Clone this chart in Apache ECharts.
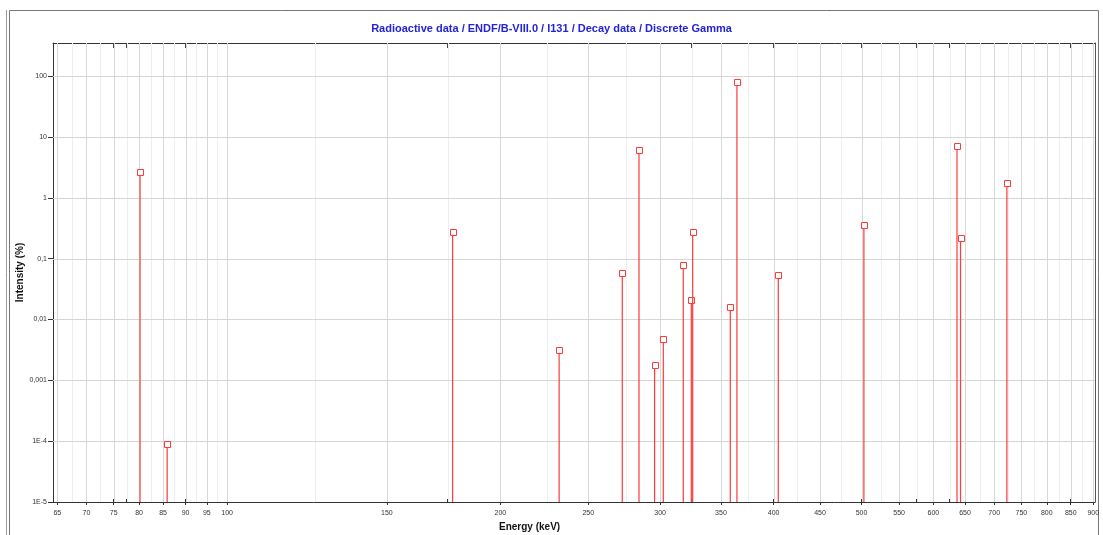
<!DOCTYPE html>
<html><head><meta charset="utf-8">
<script src="https://cdn.jsdelivr.net/npm/echarts@6/dist/echarts.min.js"></script>
<style>html,body{margin:0;padding:0;background:#fff}#c{width:1103px;height:535px}</style>
</head><body><div id="c"></div>
<script>
// Gamma line energies (keV) and intensities (%)
const energies = [80.185, 85.9, 177.21, 232.18, 272.5, 284.305, 295.8, 302.4, 318.088, 324.651, 325.789, 358.4, 364.49, 404.814, 503.004, 636.989, 642.719, 722.911];
const intensities = [2.62, 9.0e-5, 0.269, 0.0032, 0.0578, 6.12, 0.0018, 0.0047, 0.0774, 0.0212, 0.273, 0.016, 81.5, 0.0546, 0.359, 7.16, 0.217, 1.77];

// Axis ticks
const xMajorTicks = [65,70,75,80,85,90,95,100,150,200,250,300,350,400,450,500,550,600,650,700,750,800,850,900];
const xMinorTicks = [67.5,72.5,77.5,82.5,87.5,92.5,97.5,125,175,225,275,325,375,425,475,525,575,625,675,725,775,825,875];
const yTickValues = [1e-5,1e-4,0.001,0.01,0.1,1,10,100];
const yTickLabels = ['1E-5','1E-4','0,001','0,01','0,1','1','10','100'];

const X_MIN = 64.3, X_MAX = 904, Y_MIN = 1e-5, Y_MAX = 350;
const titleText = 'Radioactive data / ENDF/B-VIII.0 / I131 / Decay data / Discrete Gamma';

const chart = echarts.init(document.getElementById('c'), null, {renderer: 'canvas'});

function yLabel(v) {
  let best = 0, bd = Infinity;
  yTickValues.forEach((t, i) => { const d = Math.abs(Math.log10(t) - Math.log10(v)); if (d < bd) { bd = d; best = i; } });
  return yTickLabels[best];
}

function vGrid(color) {
  return function (params, api) {
    const cs = params.coordSys;
    const x = Math.round(api.coord([api.value(0), Y_MIN])[0]) + 0.5;
    return {type: 'line', shape: {x1: x, y1: cs.y, x2: x, y2: cs.y + cs.height}, style: {stroke: color, lineWidth: 1}, silent: true};
  };
}
function hGrid(params, api) {
  const cs = params.coordSys;
  const y = Math.round(api.coord([X_MIN, api.value(1)])[1]) + 0.5;
  return {type: 'line', shape: {x1: cs.x, y1: y, x2: cs.x + cs.width, y2: y}, style: {stroke: '#d6d6d6', lineWidth: 1}, silent: true};
}

const stemData = energies.map((e, i) => [e, intensities[i]]);

chart.setOption({
  animation: false,
  backgroundColor: '#fff',
  title: {
    text: titleText, left: 'center', top: 18,
    textStyle: {fontFamily: '"Liberation Sans Narrow", "Liberation Sans", Arial, sans-serif', fontSize: 11, fontWeight: 'bold', color: '#2323d8'}
  },
  grid: {left: 53, right: 8, top: 43, bottom: 33, containLabel: false, outerBoundsMode: 'none', show: false},
  xAxis: [
    {
      type: 'log', position: 'bottom', min: X_MIN, max: X_MAX,
      axisLine: {show: true, lineStyle: {color: '#333', width: 1}},
      axisTick: {show: true, inside: false, length: 3, customValues: xMajorTicks, lineStyle: {color: '#333'}},
      axisLabel: {show: true, customValues: xMajorTicks, fontSize: 7, color: '#333', margin: 8, fontFamily: 'Liberation Sans, Arial, sans-serif', formatter: v => String(v)},
      splitLine: {show: false}, minorTick: {show: false}
    },
    {
      type: 'log', position: 'bottom', min: X_MIN, max: X_MAX,
      axisLine: {show: false},
      axisTick: {show: true, inside: true, length: 3, customValues: xMajorTicks.concat(xMinorTicks), lineStyle: {color: '#333'}},
      axisLabel: {show: false}, splitLine: {show: false}
    },
    {
      type: 'log', position: 'top', min: X_MIN, max: X_MAX,
      axisLine: {show: true, lineStyle: {color: '#333', width: 1}},
      axisTick: {show: true, inside: true, length: 5, customValues: xMajorTicks.concat(xMinorTicks), lineStyle: {color: '#444'}},
      axisLabel: {show: false}, splitLine: {show: false}
    }
  ],
  yAxis: [
    {
      type: 'log', logBase: 10, position: 'left', min: Y_MIN, max: Y_MAX,
      name: 'Intensity (%)', nameLocation: 'middle', nameGap: 28, nameRotate: 90, nameMoveOverlap: false,
      nameTextStyle: {fontSize: 10, fontWeight: 'bold', color: '#111', fontFamily: 'Liberation Sans, Arial, sans-serif'},
      axisLine: {show: true, lineStyle: {color: '#333', width: 1}},
      axisTick: {show: true, inside: false, length: 5, customValues: yTickValues, lineStyle: {color: '#333'}},
      axisLabel: {show: true, customValues: yTickValues, fontSize: 7, color: '#333', margin: 6, fontFamily: 'Liberation Sans, Arial, sans-serif', formatter: yLabel},
      splitLine: {show: false}
    },
    {
      type: 'log', logBase: 10, position: 'right', min: Y_MIN, max: Y_MAX,
      axisLine: {show: true, lineStyle: {color: '#555', width: 1}},
      axisTick: {show: false}, axisLabel: {show: false}, splitLine: {show: false}
    }
  ],
  graphic: [
    {type: 'rect', shape: {x: 9.5, y: 10.5, width: 1089, height: 540}, style: {fill: 'none', stroke: '#777', lineWidth: 1}, silent: true, z: 0},
    {type: 'line', shape: {x1: 6.5, y1: 10, x2: 6.5, y2: 535}, style: {stroke: '#999', lineWidth: 1}, silent: true},
    {type: 'text', left: 499, top: 522, style: {text: 'Energy (keV)', fontSize: 10, fontWeight: 'bold', fill: '#111', fontFamily: 'Liberation Sans, Arial, sans-serif'}, silent: true}
  ],
  series: [
    {type: 'custom', name: 'minorV', xAxisIndex: 0, yAxisIndex: 0, silent: true, z: 1, clip: true,
     data: xMinorTicks.map(v => [v, Y_MIN]), renderItem: vGrid('#eeeeee'), encode: {x: 0, y: 1}},
    {type: 'custom', name: 'majorV', xAxisIndex: 0, yAxisIndex: 0, silent: true, z: 2, clip: true,
     data: xMajorTicks.map(v => [v, Y_MIN]), renderItem: vGrid('#d8d8d8'), encode: {x: 0, y: 1}},
    {type: 'custom', name: 'hGrid', xAxisIndex: 0, yAxisIndex: 0, silent: true, z: 2, clip: true,
     data: yTickValues.slice(1).map(v => [X_MIN * 1.5, v]), renderItem: hGrid, encode: {x: 0, y: 1}},
    {
      type: 'custom', name: 'Discrete Gamma', xAxisIndex: 0, yAxisIndex: 0, z: 5, clip: true,
      data: stemData, encode: {x: 0, y: 1},
      renderItem: function (params, api) {
        const p0 = api.coord([api.value(0), Y_MIN]);
        const p1 = api.coord([api.value(0), api.value(1)]);
        const x = p0[0];
        const y = Math.round(p1[1]) + 0.5;
        return {type: 'group', children: [
          {type: 'line', shape: {x1: x, y1: p0[1], x2: x, y2: y + 3}, style: {stroke: '#ff3a3a', lineWidth: 1.2}},
          {type: 'rect', shape: {x: Math.round(x) - 2.5, y: y - 3, width: 6, height: 6}, style: {fill: 'rgba(255,255,255,0.7)', stroke: '#ff3a3a', lineWidth: 1}}
        ]};
      }
    }
  ]
});
</script></body></html>
